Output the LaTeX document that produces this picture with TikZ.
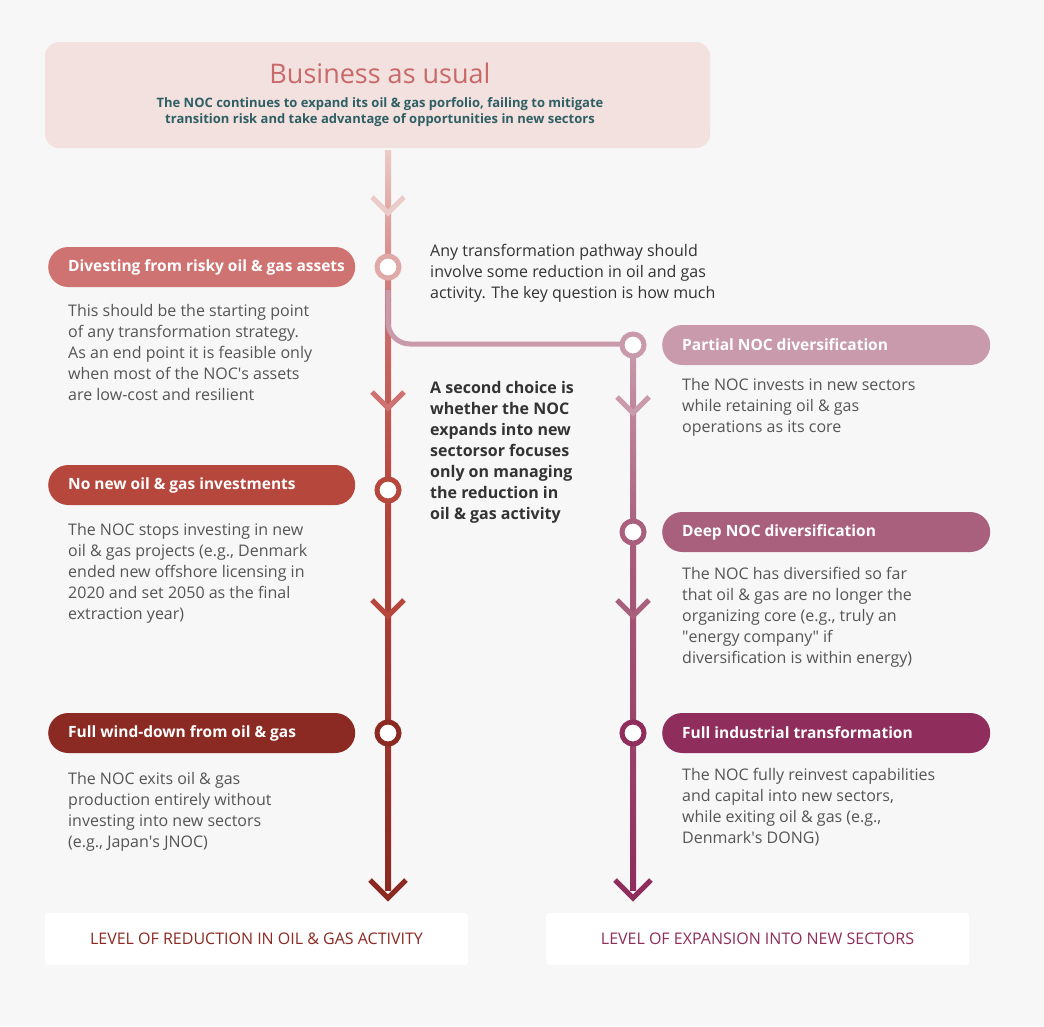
\documentclass[tikz,border=0pt]{standalone}
\usepackage{fontspec}
\setmainfont{Open Sans}
\definecolor{bg}{HTML}{F7F7F7}
\definecolor{topbox}{HTML}{F2E1DF}
\definecolor{ttl}{HTML}{C8696A}
\definecolor{teal}{HTML}{2F5F63}
\definecolor{body}{HTML}{555555}
\definecolor{dark}{HTML}{333333}
\definecolor{lA}{HTML}{EBCBC8}
\definecolor{lB}{HTML}{CF7372}
\definecolor{lC}{HTML}{B5473D}
\definecolor{lD}{HTML}{8B2A22}
\definecolor{rA}{HTML}{C99AAB}
\definecolor{rB}{HTML}{A9607C}
\definecolor{rC}{HTML}{8F2D5C}
\begin{document}
\begin{tikzpicture}[x=1pt,y=-1pt,
  pill/.style={rounded corners=20pt,minimum height=40pt,anchor=west,inner sep=0pt},
  pilltxt/.style={text=white,font=\fontsize{15.5}{18}\selectfont\bfseries,anchor=west,inner sep=0pt},
  bodytxt/.style={anchor=north west,align=left,text=body,font=\fontsize{16}{21}\selectfont,inner sep=0pt},
  midtxt/.style={anchor=north west,align=left,text=dark,font=\fontsize{16}{21}\selectfont,inner sep=0pt},
  dot/.style={circle,draw=#1,line width=5pt,fill=white,minimum size=22pt,inner sep=0pt},
  chev/.style={line width=5pt,draw=#1},
  botbox/.style={fill=white,rounded corners=3pt,minimum width=423pt,minimum height=52pt,font=\fontsize{16}{18}\selectfont}]
\fill[bg] (0,0) rectangle (1044,1026);
\useasboundingbox (0,0) rectangle (1044,1026);
% top box
\node[fill=topbox,rounded corners=14pt,minimum width=665pt,minimum height=106pt] (top) at (377.5,95) {};
\node[text=ttl,font=\fontsize{27}{30}\selectfont] (ttlx) at (380,73) {Business as usual};
\node[text=teal,font=\fontsize{13}{16}\selectfont\bfseries,align=center] (sub) at (380,112) {The NOC continues to expand its oil \& gas porfolio, failing to mitigate\\transition risk and take advantage of opportunities in new sectors};
% left track
\shade[top color=lA,bottom color=lB] (385,150) rectangle (391,300);
\shade[top color=lB,bottom color=lC] (385,300) rectangle (391,490);
\shade[top color=lC,bottom color=lD] (385,490) rectangle (391,890);
% connector
\draw[line width=5pt,draw=rA] (388,290) -- (388,322) arc[start angle=180,end angle=90,radius=22] -- (633,344);
% right track
\shade[top color=rA,bottom color=rB] (630,345) rectangle (636,532);
\shade[top color=rB,bottom color=rC] (630,532) rectangle (636,890);
% chevrons
\draw[chev=lA] (372,197)--(388,213)--(404,197);
\draw[chev=lB] (372,392)--(388,408)--(404,392);
\draw[chev=lC] (372,600)--(388,616)--(404,600);
\draw[chev=lD] (370,880)--(388,898)--(406,880);
\draw[chev=rA] (617,397)--(633,413)--(649,397);
\draw[chev=rB] (617,600)--(633,616)--(649,600);
\draw[chev=rC] (615,880)--(633,898)--(651,880);
% pills
\node[pill,fill=lB,minimum width=307pt] (p1) at (48,267) {};
\node[pilltxt] at ([xshift=20pt]p1.west) {Divesting from risky oil \& gas assets};
\node[pill,fill=lC,minimum width=307pt] (p2) at (48,485) {};
\node[pilltxt] at ([xshift=20pt]p2.west) {No new oil \& gas investments};
\node[pill,fill=lD,minimum width=307pt] (p3) at (48,733) {};
\node[pilltxt] at ([xshift=20pt]p3.west) {Full wind-down from oil \& gas};
\node[pill,fill=rA,minimum width=328pt] (q1) at (662,345) {};
\node[pilltxt] at ([xshift=20pt]q1.west) {Partial NOC diversification};
\node[pill,fill=rB,minimum width=328pt] (q2) at (662,532) {};
\node[pilltxt] at ([xshift=20pt]q2.west) {Deep NOC diversification};
\node[pill,fill=rC,minimum width=328pt] (q3) at (662,733) {};
\node[pilltxt] at ([xshift=20pt]q3.west) {Full industrial transformation};
% dots
\node[dot=lA!60!lB] (d1) at (388,267) {};
\node[dot=lC] (d2) at (388,490) {};
\node[dot=lD] (d3) at (388,733) {};
\node[dot=rA] (e1) at (633,345) {};
\node[dot=rB] (e2) at (633,532) {};
\node[dot=rC] (e3) at (633,733) {};
% body texts
\node[bodytxt] (t1) at (68,304) {This should be the starting point\\of any transformation strategy.\\As an end point it is feasible only\\when most of the NOC\textquotesingle s assets\\are low-cost and resilient};
\node[bodytxt] (t2) at (68,523) {The NOC stops investing in new\\oil \& gas projects (e.g., Denmark\\ended new offshore licensing in\\2020 and set 2050 as the final\\extraction year)};
\node[bodytxt] (t3) at (68,772) {The NOC exits oil \& gas\\production entirely without\\investing into new sectors\\(e.g., Japan\textquotesingle s JNOC)};
\node[bodytxt] (u1) at (682,378) {The NOC invests in new sectors\\while retaining oil \& gas\\operations as its core};
\node[bodytxt] (u2) at (682,567) {The NOC has diversified so far\\that oil \& gas are no longer the\\organizing core (e.g., truly an\\\textquotedbl energy company\textquotedbl{} if\\diversification is within energy)};
\node[bodytxt] (u3) at (682,768) {The NOC fully reinvest capabilities\\and capital into new sectors,\\while exiting oil \& gas (e.g.,\\Denmark\textquotesingle s DONG)};
\node[midtxt] (m1) at (430,244) {Any transformation pathway should\\involve some reduction in oil and gas\\activity. The key question is how much};
\node[midtxt,font=\fontsize{16}{21}\selectfont\bfseries] (m2) at (430,381) {A second choice is\\whether the NOC\\expands into new\\sectorsor focuses\\only on managing\\the reduction in\\oil \& gas activity};
% bottom boxes
\node[botbox,text=lD] (b1) at (256.5,939) {LEVEL OF REDUCTION IN OIL \& GAS ACTIVITY};
\node[botbox,text=rC] (b2) at (757.5,939) {LEVEL OF EXPANSION INTO NEW SECTORS};
\end{tikzpicture}
\end{document}
